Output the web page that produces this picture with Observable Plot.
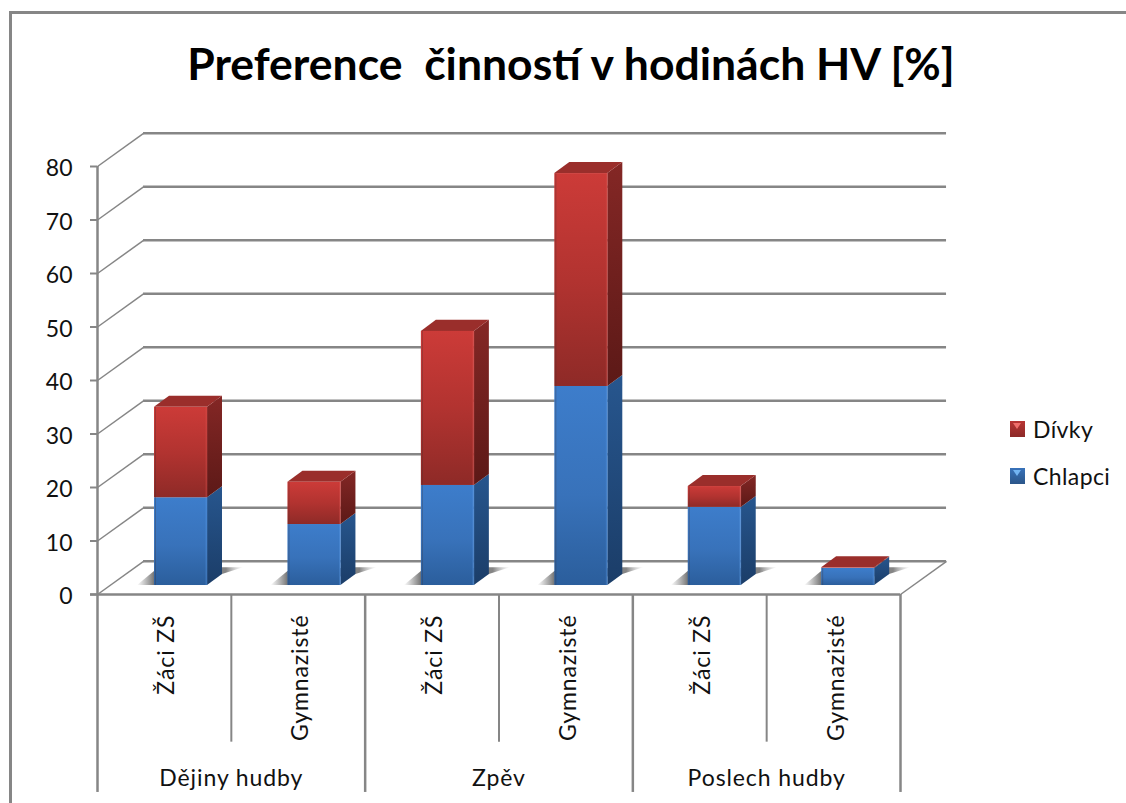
<!DOCTYPE html>
<html lang="cs">
<head>
<meta charset="utf-8">
<script src="https://cdn.jsdelivr.net/npm/d3@7"></script>
<script src="https://cdn.jsdelivr.net/npm/@observablehq/plot@0.6"></script>
<style>
html,body{margin:0;padding:0;background:#fff;}
#chart{position:relative;width:1126px;height:803px;overflow:hidden;font-family:Lato,"Open Sans",sans-serif;color:#000;}
#frame{position:absolute;left:9px;top:11px;right:-5px;bottom:-5px;border-left:3px solid #868686;border-top:3px solid #868686;}
#title{position:absolute;left:0;top:38px;width:1142px;text-align:center;font-size:44.5px;font-weight:700;line-height:50px;white-space:pre;color:#000;}
#plot{position:absolute;left:0;top:110px;}
#legend{position:absolute;left:1010px;top:415px;font-size:23px;letter-spacing:.4px;color:#111;}
.item{display:flex;align-items:center;height:28px;margin-bottom:19px;white-space:nowrap;}
.sw{position:relative;width:15px;height:16px;margin-right:8px;overflow:hidden;}
.sw:before{content:"";position:absolute;left:3px;top:2px;border-left:4.5px solid transparent;border-right:4.5px solid transparent;border-top:6px solid var(--hi);}
</style>
</head>
<body>
<div id="chart">
  <div id="frame"></div>
  <div id="title">Preference  činností v hodinách HV [%]</div>
  <div id="plot"></div>
  <div id="legend"></div>
</div>
<script>
// --- Data ---
const groups = ["Dějiny hudby", "Zpěv", "Poslech hudby"];
const pupils = ["Žáci ZŠ", "Gymnazisté", "Žáci ZŠ", "Gymnazisté", "Žáci ZŠ", "Gymnazisté"];
const chlapci = [16.4, 11.4, 18.7, 37.2, 14.6, 3.2];
const divky = [16.9, 7.9, 28.8, 39.8, 3.9, 0.1];
const yTicks = [0, 10, 20, 30, 40, 50, 60, 70, 80];
const legendItems = ["Dívky", "Chlapci"];

// --- Pseudo-3D projection, in scale units (one slot per column on x, percent on y) ---
const wallX = 0.344, wallY = 6.2;     // depth of the chart box
const barL = 0.426, barW = 0.396;     // bar's left edge within a slot, and its width
const barStep = 0.997;                // bar spacing
const barBase = 1.68;                 // bars stand part-way back on the floor
const sideX = 0.112, sideY = 2.06;    // depth of a bar
const tickDrop = -27.6, groupDrop = -37;

const segs = [];
pupils.forEach((_, i) => {
  const x1 = i * barStep + barL, x2 = x1 + barW;
  const b1 = barBase + chlapci[i], b2 = b1 + divky[i];
  segs.push({i, s: "blue", x1, x2, y1: barBase, y2: b1});
  segs.push({i, s: "red", x1, x2, y1: b1, y2: b2});
});
const sides = segs.flatMap((d, k) => [
  {k, s: d.s, x: d.x2, y1: d.y1, y2: d.y2},
  {k, s: d.s, x: d.x2 + sideX, y1: d.y1 + sideY, y2: d.y2 + sideY}
]);
const tops = segs.filter(d => d.s === "red").flatMap(d => {
  const t = d.y2, u = t + sideY;
  return [
    {i: d.i, x: d.x1, y1: t, y2: t},
    {i: d.i, x: d.x1 + sideX, y1: t, y2: u},
    {i: d.i, x: d.x2, y1: t, y2: u},
    {i: d.i, x: d.x2 + sideX, y1: u, y2: u}
  ];
});
const shadows = pupils.flatMap((_, i) => {
  const l = i * barStep + barL, r = l + barW, b = barBase;
  return [
    {i, x: l - 0.127, y1: b, y2: b},
    {i, x: l, y1: b, y2: b + 2.6},
    {i, x: r + sideX, y1: b + sideY, y2: b + 3.3},
    {i, x: r + sideX + 0.157, y1: b + 3.3, y2: b + 3.3}
  ];
});

function gradient(id, stops, horizontal) {
  return `<linearGradient id="${id}" x1="0" y1="0" x2="${horizontal ? 1 : 0}" y2="${horizontal ? 0 : 1}">` +
    stops.map(([o, c, a]) => `<stop offset="${o}" stop-color="${c}" stop-opacity="${a ?? 1}"/>`).join("") +
    `</linearGradient>`;
}
const defs = () => {
  const g = d3.create("svg:g");
  g.html(`<defs>` +
    gradient("front-blue", [[0, "#3d7dcb"], [0.55, "#3872ba"], [1, "#2b5e9c"]]) +
    gradient("front-red", [[0, "#cc3b38"], [0.5, "#b23330"], [1, "#8e2a27"]]) +
    gradient("side-blue", [[0, "#27568e"], [1, "#1b3d68"]]) +
    gradient("side-red", [[0, "#842725"], [1, "#5c1917"]]) +
    gradient("shadow", [[0, "#777", 0], [0.16, "#666", 0.9], [0.84, "#777", 0.9], [1, "#bbb", 0.05]], true) +
    `</defs>`);
  return g.node();
};

const grey = "#868686";
const chart = Plot.plot({
  width: 1126,
  height: 693,
  marginLeft: 97,
  marginRight: 226,
  marginTop: 56,
  marginBottom: 209,
  style: {background: "transparent", fontFamily: "Lato, 'Open Sans', sans-serif", overflow: "visible"},
  x: {domain: [0, 6], axis: null},
  y: {domain: [0, 80], axis: null},
  marks: [
    defs,
    // back wall and side wall gridlines
    Plot.ruleY(yTicks, {y: d => d + wallY, x1: wallX, x2: 6 + wallX, stroke: grey, strokeWidth: 2.5}),
    Plot.link(yTicks, {x1: 0, y1: d => d, x2: wallX, y2: d => d + wallY, stroke: grey, strokeWidth: 1.5}),
    Plot.link([0], {x1: 6, y1: 0, x2: 6 + wallX, y2: wallY, stroke: grey, strokeWidth: 1.5}),
    // bar shadows on the floor
    Plot.areaY(shadows, {x: "x", y1: "y1", y2: "y2", z: "i", fill: "url(#shadow)", curve: "linear"}),
    // bars
    Plot.areaY(sides, {x: "x", y1: "y1", y2: "y2", z: "k", fill: d => `url(#side-${d.s})`, curve: "linear"}),
    Plot.areaY(tops, {x: "x", y1: "y1", y2: "y2", z: "i", fill: "#9a2e2b", curve: "linear"}),
    Plot.rect(segs, {x1: "x1", x2: "x2", y1: "y1", y2: "y2", fill: d => `url(#front-${d.s})`}),
    // slight bevel along the bars' vertical edges
    Plot.ruleX(segs, {x: "x2", y1: "y1", y2: "y2", dx: -1, strokeWidth: 2, strokeOpacity: 0.35, stroke: d => d.s === "red" ? "#d9534f" : "#5b9be6"}),
    Plot.ruleX(segs, {x: "x1", y1: "y1", y2: "y2", dx: 1, strokeWidth: 1, strokeOpacity: 0.3, stroke: "#40302f"}),
    // axes
    Plot.ruleX([0, 2, 4, 6], {y1: 0, y2: groupDrop, stroke: grey, strokeWidth: 2.5}),
    Plot.ruleX([1, 3, 5], {y1: 0, y2: tickDrop, stroke: grey, strokeWidth: 2}),
    Plot.ruleX([0], {y1: 0, y2: 80, stroke: grey, strokeWidth: 2.5}),
    Plot.ruleY([0], {x1: -0.052, x2: 6, stroke: grey, strokeWidth: 2.5}),
    Plot.axisY({ticks: yTicks, tickSize: 7, tickPadding: 18, fontSize: 23, stroke: grey, strokeWidth: 2, label: null, fill: "#111", textStroke: "none"}),
    // category labels
    Plot.text(pupils, {x: (_, i) => i + 0.5, text: d => d, frameAnchor: "bottom", dx: 10, dy: 20, rotate: -90, textAnchor: "end", fontSize: 23, fill: "#111"}),
    Plot.text(groups, {x: (_, i) => 2 * i + 1, text: d => d, frameAnchor: "bottom", dy: 191, fontSize: 23, fill: "#111"})
  ]
});
document.getElementById("plot").append(chart);
// the reference's labels run wider than Lato at this size; nudge tick labels onto their ticks
d3.select(chart).selectAll('g[aria-label="text"] text').style("letter-spacing", "0.9px");
d3.select(chart).selectAll('g[aria-label="y-axis tick label"]').attr("transform", function () {
  return (this.getAttribute("transform") || "") + " translate(0,2.5)";
});

// legend
const swatches = {
  "Dívky": ["linear-gradient(#b83533,#8c2a28)", "#ef6f6b"],
  "Chlapci": ["linear-gradient(#3872ba,#2b5689)", "#72b4f2"]
};
const legend = d3.select("#legend");
legendItems.forEach(name => {
  const it = legend.append("div").attr("class", "item");
  it.append("span").attr("class", "sw")
    .style("background", swatches[name][0])
    .style("--hi", swatches[name][1]);
  it.append("span").text(name);
});
</script>
</body>
</html>
